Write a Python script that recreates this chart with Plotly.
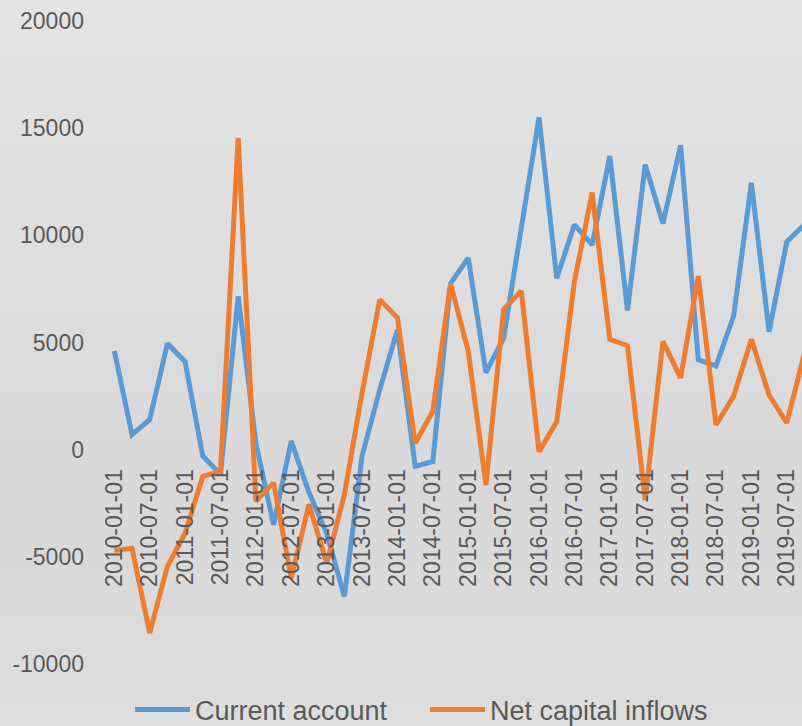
import plotly.graph_objects as go

# ---- data ----
quarters = [f"{y}-{m:02d}-01" for y in range(2010, 2020) for m in (1, 4, 7, 10)]
current_account = [4600, 700, 1400, 4950,
                   4100, -300, -1150, 7150,
                   300, -3500, 400, -2000,
                   -3900, -6850, -300, 2800,
                   5600, -780, -550, 7750,
                   8950, 3600, 5200, 10400,
                   15500, 8000, 10500, 9550,
                   13700, 6500, 13300, 10550,
                   14200, 4200, 3900, 6250,
                   12450, 5500, 9700, 10500]
net_capital_inflows = [-4700, -4600, -8550, -5450,
                       -3900, -1250, -1000, 14550,
                       -2400, -1550, -6000, -2550,
                       -5300, -2100, 2650, 7000,
                       6150, 300, 1800, 7750,
                       4600, -1650, 6550, 7400,
                       -100, 1300, 7850, 12000,
                       5150, 4850, -2350, 5050,
                       3350, 8100, 1150, 2500,
                       5150, 2550, 1250, 4500]
y_ticks = [-10000, -5000, 0, 5000, 10000, 15000, 20000]
y_tick_text = ["-10000", "-5000", "0", "5000", "10000", "15000", "20000"]

idx = list(range(len(quarters)))
tick_idx = [i for i in idx if i % 2 == 0]
tick_txt = [quarters[i] for i in tick_idx]

W, H = 802, 726
L, R, T, B = 105, 0, 21, 62
FONT = "Liberation Sans"
TXT = "#595959"

fig = go.Figure()
fig.add_trace(go.Scatter(x=idx, y=current_account, mode="lines", name="Current account",
                         line=dict(color="#5B9BD5", width=5)))
fig.add_trace(go.Scatter(x=idx, y=net_capital_inflows, mode="lines", name="Net capital inflows",
                         line=dict(color="#ED7D31", width=5)))

# background gradient bands (paper coords spanning the full figure)
pw = W - L - R
ph = H - T - B
def shade(ypx):
    if ypx <= 500:
        v = 228 - (228 - 216) * ypx / 500
    else:
        v = 216 + (221 - 216) * (ypx - 500) / (H - 500)
    v = int(round(v))
    return f"rgb({v},{v},{v})"

n = 60
shapes = []
for k in range(n):
    y0px = H * k / n
    y1px = H * (k + 1) / n
    shapes.append(dict(type="rect", xref="paper", yref="paper", layer="below",
                       x0=-L / pw - 0.01, x1=1 + R / pw + 0.01,
                       y0=(H - B - y1px) / ph, y1=(H - B - y0px) / ph + 0.002,
                       fillcolor=shade((y0px + y1px) / 2), line=dict(width=0)))

fig.update_layout(
    width=W, height=H,
    margin=dict(l=L, r=R, t=T, b=B, autoexpand=False),
    paper_bgcolor="#dddddd", plot_bgcolor="rgba(0,0,0,0)",
    shapes=shapes,
    font=dict(family=FONT, color=TXT, size=22),
    showlegend=True,
    legend=dict(orientation="h", xref="container", yref="container",
                x=130 / W, xanchor="left",
                y=(H - 710) / H, yanchor="middle",
                font=dict(size=27, family=FONT, color=TXT),
                bgcolor="rgba(0,0,0,0)", itemwidth=55, entrywidth=225,
                tracegroupgap=0),
    xaxis=dict(range=[-0.526, 38.86], tickmode="array", tickvals=tick_idx, ticktext=tick_txt,
               tickangle=-90, showgrid=False, zeroline=False, showline=False,
               anchor="free", position=1 / 3, ticks="", ticklabelstandoff=14,
               automargin=False,
               tickfont=dict(size=23, family=FONT, color=TXT)),
    yaxis=dict(range=[-10000, 20000], tickmode="array", tickvals=y_ticks, ticktext=y_tick_text,
               showgrid=False, zeroline=False, showline=False, ticks="",
               automargin=False,
               ticklabelstandoff=20, tickfont=dict(size=23, family=FONT, color=TXT)),
)

fig.write_html("out.html", config={"displayModeBar": False},
               post_script="document.body.style.margin='0';")
